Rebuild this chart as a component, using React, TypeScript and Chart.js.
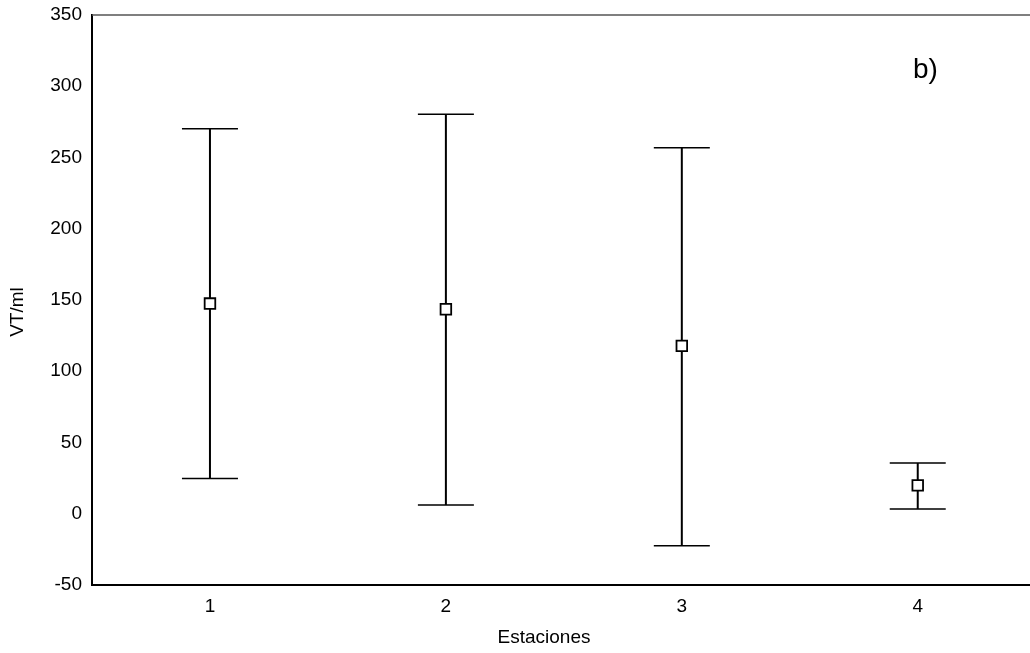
import React, { useEffect, useRef } from "react";
import { Chart, registerables } from "chart.js";

Chart.register(...registerables);

const categories = ["1", "2", "3", "4"];
const means = [147.5, 143.5, 117.8, 19.9];
const upper = [270.2, 280.3, 256.8, 35.6];
const lower = [24.8, 6.1, -22.5, 3.4];
const yTicks = [-50, 0, 50, 100, 150, 200, 250, 300, 350];
const panelLabel = "b)";
const xTitle = "Estaciones";
const yTitle = "VT/ml";

const FONT = "'Liberation Sans', Arial, sans-serif";

const errorBarPlugin = {
  id: "errorBars",
  beforeDatasetsDraw(chart: any) {
    const ctx = chart.ctx;
    const xs = chart.scales.x;
    const ys = chart.scales.y;
    ctx.save();
    ctx.strokeStyle = "#000";
    categories.forEach((c, i) => {
      const x = xs.getPixelForValue(i + 1);
      const yu = ys.getPixelForValue(upper[i]);
      const yl = ys.getPixelForValue(lower[i]);
      ctx.lineWidth = 2;
      ctx.beginPath();
      ctx.moveTo(x, yu);
      ctx.lineTo(x, yl);
      ctx.stroke();
      ctx.lineWidth = 1.5;
      ctx.beginPath();
      ctx.moveTo(x - 28, yu);
      ctx.lineTo(x + 28, yu);
      ctx.moveTo(x - 28, yl);
      ctx.lineTo(x + 28, yl);
      ctx.stroke();
    });
    ctx.restore();
  },
  afterDraw(chart: any) {
    const ctx = chart.ctx;
    const a = chart.chartArea;
    ctx.save();
    // top frame line
    ctx.strokeStyle = "#555";
    ctx.lineWidth = 1.5;
    ctx.beginPath();
    ctx.moveTo(a.left, a.top);
    ctx.lineTo(a.right, a.top);
    ctx.stroke();
    // panel label
    ctx.fillStyle = "#000";
    ctx.font = `28px ${FONT}`;
    ctx.textAlign = "left";
    ctx.textBaseline = "alphabetic";
    ctx.fillText(panelLabel, 913, 78);
    // axis titles
    ctx.font = `19px ${FONT}`;
    ctx.textAlign = "center";
    ctx.textBaseline = "middle";
    ctx.fillText(xTitle, 544, 638);
    ctx.translate(18, 312);
    ctx.rotate(-Math.PI / 2);
    ctx.fillText(yTitle, 0, 0);
    ctx.restore();
  },
};

export default function App() {
  const ref = useRef<HTMLCanvasElement>(null);
  useEffect(() => {
    if (!ref.current) return;
    const chart = new Chart(ref.current, {
      type: "line",
      data: {
        datasets: [
          {
            data: categories.map((c, i) => ({ x: i + 1, y: means[i] })),
            showLine: false,
            pointStyle: "rect",
            pointRadius: 7.5,
            pointBorderWidth: 1.8,
            pointBackgroundColor: "#fff",
            pointBorderColor: "#000",
          },
        ],
      },
      options: {
        responsive: false,
        animation: false,
        devicePixelRatio: 1,
        layout: { padding: { left: 0, right: 8, top: 15, bottom: 0 } },
        plugins: { legend: { display: false }, tooltip: { enabled: false } },
        scales: {
          x: {
            type: "linear",
            min: 0.5,
            max: 4.5,
            grid: { display: false, drawTicks: false },
            border: { display: true, color: "#000", width: 2 },
            afterBuildTicks: (s: any) => {
              s.ticks = categories.map((c, i) => ({ value: i + 1 }));
            },
            afterFit: (s: any) => {
              s.height = 68;
              s.paddingLeft = 0;
              s.paddingRight = 0;
            },
            ticks: {
              padding: 10,
              color: "#000",
              font: { family: FONT, size: 19 },
              callback: (v: any) => categories[Number(v) - 1] ?? "",
              maxRotation: 0,
            },
          },
          y: {
            type: "linear",
            min: -50,
            max: 350,
            grid: { display: false, drawTicks: false },
            border: { display: true, color: "#000", width: 2 },
            afterBuildTicks: (s: any) => {
              s.ticks = yTicks.map((v) => ({ value: v }));
            },
            afterFit: (s: any) => {
              s.width = 92;
              s.paddingTop = 0;
              s.paddingBottom = 0;
            },
            ticks: {
              padding: 10,
              color: "#000",
              font: { family: FONT, size: 19 },
            },
          },
        },
      },
      plugins: [errorBarPlugin],
    } as any);
    return () => chart.destroy();
  }, []);
  return (
    <div
      style={{
        position: "fixed",
        left: 0,
        top: 0,
        width: 1030,
        height: 653,
        overflow: "hidden",
        background: "#fff",
      }}
    >
      <canvas
        ref={ref}
        width={1045}
        height={653}
        style={{ width: 1045, height: 653, display: "block" }}
      />
    </div>
  );
}
